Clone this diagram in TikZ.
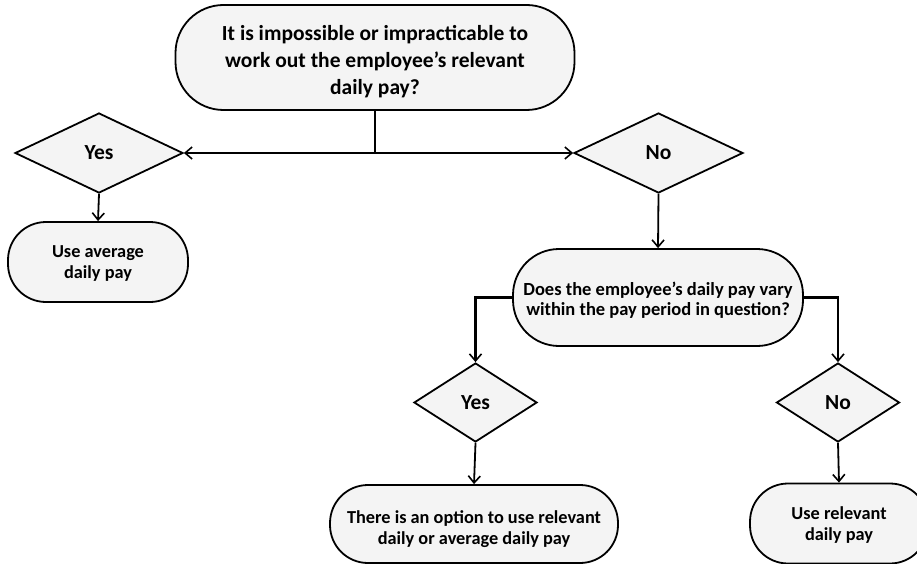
\documentclass[tikz,border=0pt]{standalone}
\usepackage{fontspec}
\setmainfont{Carlito}
\usetikzlibrary{shapes.geometric,arrows.meta}
\definecolor{boxfill}{HTML}{F4F4F4}
\newcommand\mlines[2][-4pt]{\raisebox{#1}[\height][\depth]{\begin{tabular}{@{}c@{}}#2\end{tabular}}}
\begin{document}
\begin{tikzpicture}[x=1pt,y=-1pt,
  base/.style={draw=black,line width=1.8pt,fill=boxfill,font=\bfseries,inner sep=0pt},
  term/.style={base,rectangle,rounded corners=#1},
  term/.default=36pt,
  decide/.style={base,diamond,font=\fontsize{21.5}{24}\selectfont\bfseries},
  small/.style={font=\fontsize{18.3}{21}\selectfont\bfseries},
  conn/.style={line width=1.8pt},
  arr/.style={conn,-{Straight Barb[length=7pt,width=12pt,line width=1.6pt]}},
  thickarr/.style={arr,line width=2.4pt}]
\useasboundingbox (0,0) rectangle (917,564);
\begin{scope}
\clip (0,0) rectangle (917,564);
\node[term=48pt,minimum width=399pt,minimum height=105pt,font=\fontsize{21.5}{27}\selectfont\bfseries] (top) at (375,57.5)
  {\mlines[-5pt]{It is impossible or impracticable to\\work out the employee’s relevant\\daily pay?}};
\node[decide,minimum width=168pt,minimum height=80pt] (dy) at (99,153) {Yes};
\node[decide,minimum width=169pt,minimum height=80pt] (dn) at (658.5,153) {No};
\node[term=38pt,minimum width=180pt,minimum height=80pt,small] (uavg) at (98,262)
  {\mlines[-1.5pt]{Use average\\daily pay}};
\node[term=46pt,minimum width=290pt,minimum height=97pt,font=\fontsize{18.5}{20}\selectfont\bfseries] (mid) at (658,297.5)
  {\mlines[-4pt]{Does the employee’s daily pay vary\\within the pay period in question?}};
\node[decide,minimum width=123pt,minimum height=79pt] (dy2) at (475.5,402.5) {Yes};
\node[decide,minimum width=123pt,minimum height=79pt] (dn2) at (838,402.5) {No};
\node[term=38pt,minimum width=288pt,minimum height=78pt,small] (opt) at (474,524)
  {\mlines[-6pt]{There is an option to use relevant\\daily or average daily pay}};
\node[term=38pt,minimum width=178pt,minimum height=80pt,small] (rel) at (839,523.5)
  {\mlines[-2pt]{Use relevant\\daily pay}};
\coordinate (j) at (top.south |- dy.east);
\draw[conn] (top.south) -- (j);
\draw[arr] (j) -- (dy.east);
\draw[arr] (j) -- (dn.west);
\draw[arr] (dy.south) -- (uavg.north);
\draw[arr] (dn.south) -- (mid.north);
\draw[thickarr] (mid.west) -| (dy2.north);
\draw[thickarr] (mid.east) -| (dn2.north);
\draw[arr] (dy2.south) -- (opt.north);
\draw[arr] (dn2.south) -- (rel.north);
\end{scope}
\end{tikzpicture}
\end{document}
